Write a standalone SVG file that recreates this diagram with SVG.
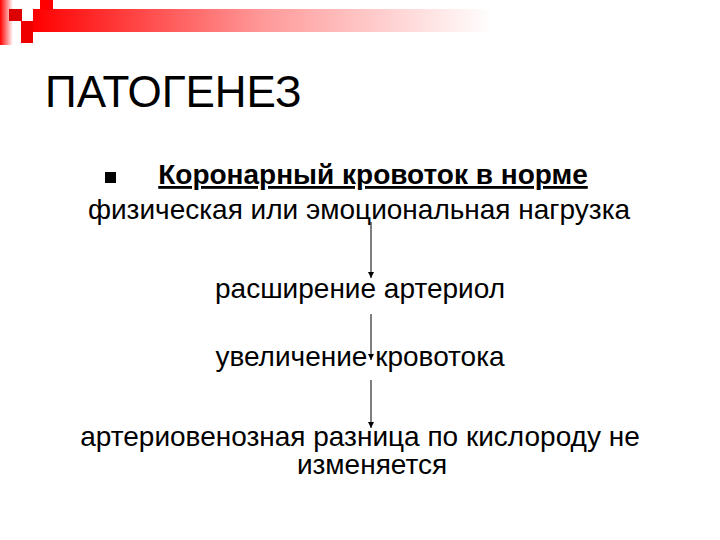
<svg xmlns="http://www.w3.org/2000/svg" width="720" height="540" viewBox="0 0 720 540">
<defs>
<linearGradient id="bar" x1="0" y1="0" x2="1" y2="0">
<stop offset="0" stop-color="#ff0000"/>
<stop offset="0.5" stop-color="#f99"/>
<stop offset="1" stop-color="#fff"/>
</linearGradient>
<linearGradient id="stripe" x1="0" y1="0" x2="1" y2="0">
<stop offset="0" stop-color="#ff0000"/>
<stop offset="1" stop-color="#fff"/>
</linearGradient>
<marker id="ah" viewBox="0 0 10 10" refX="10" refY="5" markerWidth="6" markerHeight="6" orient="auto" markerUnits="userSpaceOnUse">
<path d="M0,0 L10,5 L0,10 z" fill="#000"/>
</marker>
<style>
.t{font-family:"Liberation Sans",Arial,sans-serif;fill:#000;text-anchor:middle;font-size:28px}
.c{stroke:#000;stroke-width:1;fill:none}
</style>
</defs>
<g id="decor">
<rect x="0" y="0" width="13" height="45" fill="url(#stripe)"/>
<rect x="33" y="9" width="460" height="23" fill="url(#bar)"/>
<rect x="9" y="9" width="13" height="12" fill="#d00"/>
<rect x="21" y="21" width="12" height="22" fill="#e00"/>
<rect x="40" y="0" width="13" height="10" fill="#f00"/>
</g>
<text x="45" y="107" font-family="Liberation Sans, Arial, sans-serif" font-size="44">ПАТОГЕНЕЗ</text>
<g id="n0">
<rect x="105" y="172" width="11" height="11" fill="#000"/>
<text class="t" x="373" y="184" font-weight="bold" text-decoration="underline">Коронарный кровоток в норме</text>
</g>
<g id="n1"><text class="t" x="359" y="219">физическая или эмоциональная нагрузка</text></g>
<g id="n2"><text class="t" x="360" y="298">расширение артериол</text></g>
<g id="n3"><text class="t" x="360" y="366">увеличение кровотока</text></g>
<g id="n4"><text class="t" x="360" y="446">артериовенозная разница по кислороду не<tspan x="372" y="474">изменяется</tspan></text></g>
<g id="connectors">
<line class="c" x1="371" y1="222" x2="371" y2="278" marker-end="url(#ah)"/>
<line class="c" x1="371" y1="314" x2="371" y2="360" marker-end="url(#ah)"/>
<line class="c" x1="371" y1="380" x2="371" y2="428" marker-end="url(#ah)"/>
</g>
</svg>
